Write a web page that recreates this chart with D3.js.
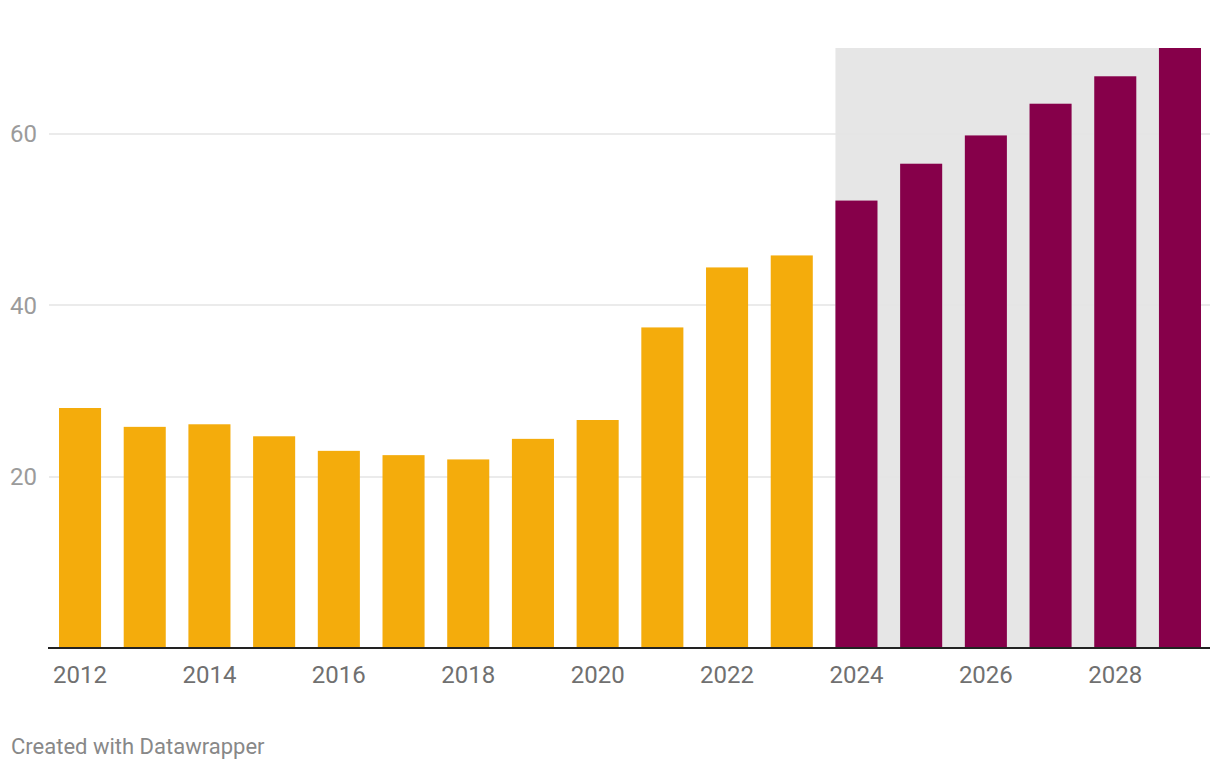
<!DOCTYPE html>
<html><head><meta charset="utf-8">
<script src="https://cdn.jsdelivr.net/npm/d3@7"></script>
<style>
html,body{margin:0;padding:0;background:#fff;}
svg{display:block;font-family:Roboto, "Noto Sans", sans-serif;}
</style></head>
<body>
<svg id="chart" width="1220" height="770"></svg>
<script>
const years = [2012,2013,2014,2015,2016,2017,2018,2019,2020,2021,2022,2023,2024,2025,2026,2027,2028,2029];
const values = [28.0,25.8,26.1,24.7,23.0,22.5,22.0,24.4,26.6,37.4,44.4,45.8,52.2,56.5,59.8,63.5,66.7,70.0];
const forecastFrom = 2024;
const yTicks = [20,40,60];
const xTickLabels = [2012,2014,2016,2018,2020,2022,2024,2026,2028];

const svg = d3.select("#chart");
const x = d3.scaleBand().domain(years).range([59,1201]).paddingInner(0.35).paddingOuter(0);
const y = d3.scaleLinear().domain([0,70]).range([648,48]);

// shaded forecast region
svg.append("rect")
  .attr("x", x(forecastFrom))
  .attr("y", y(70))
  .attr("width", x(years[years.length-1]) + x.bandwidth() - x(forecastFrom))
  .attr("height", y(0) - y(70))
  .attr("fill", "#e6e6e6");

// gridlines
const grid = svg.append("g");
yTicks.forEach(t => {
  grid.append("line")
    .attr("x1", 49).attr("x2", 1210)
    .attr("y1", Math.round(y(t))).attr("y2", Math.round(y(t)))
    .attr("stroke", "#e4e4e4").attr("stroke-width", 1.5);
  grid.append("text")
    .attr("x", 10).attr("y", y(t))
    .attr("dy", "0.35em")
    .attr("font-size", 24)
    .attr("fill", "#9b9b9b")
    .text(t);
});

// bars
svg.append("g").selectAll("rect").data(years).join("rect")
  .attr("x", d => x(d))
  .attr("y", (d,i) => y(values[i]))
  .attr("width", x.bandwidth())
  .attr("height", (d,i) => y(0) - y(values[i]))
  .attr("fill", d => d >= forecastFrom ? "#86004a" : "#f4ac0c");

// baseline
svg.append("line")
  .attr("x1", 48).attr("x2", 1210)
  .attr("y1", 648).attr("y2", 648)
  .attr("stroke", "#222").attr("stroke-width", 2);

// x labels
svg.append("g").selectAll("text").data(xTickLabels).join("text")
  .attr("x", d => x(d) + x.bandwidth()/2)
  .attr("y", 683)
  .attr("text-anchor", "middle")
  .attr("font-size", 24)
  .attr("fill", "#707070")
  .text(d => d);

svg.append("text")
  .attr("x", 11).attr("y", 754)
  .attr("font-size", 22)
  .attr("fill", "#888")
  .text("Created with Datawrapper");
</script>
</body></html>
